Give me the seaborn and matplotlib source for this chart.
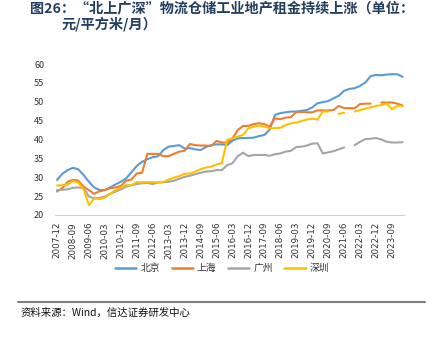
import numpy as np
import pandas as pd
import matplotlib
matplotlib.use("Agg")
import matplotlib.pyplot as plt
from matplotlib.lines import Line2D
import seaborn as sns

# ---------------- data (quarterly, 2007-12 .. 2024-03) ----------------
dates = pd.date_range("2007-12-01", periods=66, freq="3MS").strftime("%Y-%m").tolist()
tick_labels = dates[::3]

beijing = [29.3, 30.9, 31.9, 32.5, 32.1, 30.6, 28.8, 27.3, 26.6, 26.6, 27.3, 28.1,
           28.8, 29.7, 31.3, 33.0, 34.1, 34.8, 35.3, 35.6, 37.2, 38.1, 38.3, 38.5,
           37.6, 37.7, 37.4, 37.2, 38.0, 38.5, 38.7, 38.7, 38.5, 39.7, 40.3, 40.4,
           40.4, 40.5, 40.9, 41.2, 42.6, 46.5, 47.0, 47.2, 47.4, 47.4, 47.6, 47.8,
           48.5, 49.6, 49.9, 50.2, 50.9, 51.6, 52.9, 53.4, 53.6, 54.2, 55.1, 56.8,
           57.1, 57.0, 57.2, 57.3, 57.3, 56.6]
shanghai = [26.2, 27.1, 28.8, 29.3, 29.1, 27.5, 26.6, 25.6, 26.3, 26.6, 27.1, 27.3,
            27.7, 29.1, 29.4, 31.0, 31.2, 36.2, 36.2, 36.2, 35.6, 35.6, 36.2, 36.8,
            37.0, 38.8, 38.5, 38.4, 38.4, 38.3, 39.6, 39.2, 39.2, 40.3, 42.5, 43.6,
            43.6, 44.1, 44.3, 44.1, 43.4, 45.6, 45.4, 45.8, 45.9, 47.3, 47.3, 47.2,
            47.2, 47.7, 47.7, 47.7, 47.8, 48.9, 48.3, 48.3, 48.3, 49.4, 49.5, 49.5,
            np.nan, 49.8, 49.8, 49.8, 49.5, 49.0]
guangzhou = [26.6, 26.7, 26.8, 27.2, 27.3, 27.1, 24.9, 24.4, 24.5, 24.9, 25.6, 26.2,
             26.8, 27.5, 27.9, 28.2, 28.4, 28.5, 28.2, 28.6, 28.7, 28.8, 29.1, 29.6,
             30.1, 30.4, 30.8, 31.2, 31.5, 31.6, 31.9, 31.9, 33.2, 33.7, 35.6, 36.5,
             35.6, 35.9, 35.9, 35.9, 35.7, 36.1, 36.3, 36.8, 37.0, 38.0, 38.1, 38.4,
             38.9, 39.0, 36.3, 36.6, 36.9, 37.4, 37.9, np.nan, 38.5, 39.4, 40.1, 40.2,
             40.4, 40.0, 39.4, 39.2, 39.2, 39.3]
shenzhen = [27.8, 27.9, 28.1, 29.0, 28.6, 26.8, 22.6, 24.4, 24.2, 24.6, 25.6, 26.6,
            27.3, 27.9, 27.9, 28.7, 28.7, 28.7, 28.7, 28.6, 28.7, 29.4, 29.9, 30.3,
            30.9, 31.0, 31.5, 32.1, 32.6, 32.8, 33.4, 33.7, 39.9, 40.3, 40.8, 41.2,
            43.0, 43.4, 43.7, 43.4, 43.0, 43.0, 43.1, 43.8, 44.3, 44.5, 44.9, 45.3,
            45.5, 45.3, 47.4, 47.4, np.nan, 46.8, 47.1, np.nan, 47.4, 47.8, 48.2, 48.5,
            48.9, 49.1, 49.6, 48.0, 48.9, 48.9]

cities = ["北京", "上海", "广州", "深圳"]
series = [beijing, shanghai, guangzhou, shenzhen]
colors = ["#5B9BD5", "#ED7D31", "#A5A5A5", "#FFC000"]

# long-form frame, with a segment id so that missing values leave gaps
frames = []
for city, vals in zip(cities, series):
    v = pd.Series(vals, dtype=float)
    seg = v.isna().cumsum()
    df = pd.DataFrame({"x": np.arange(len(v)), "value": v, "city": city,
                       "seg": city + "_" + seg.astype(str)})
    frames.append(df.dropna())
data = pd.concat(frames, ignore_index=True)

# ---------------- figure ----------------
sns.set_theme(style="white")
plt.rcParams["font.family"] = ["Noto Sans CJK SC", "DejaVu Sans"]
plt.rcParams["axes.unicode_minus"] = False

fig = plt.figure(figsize=(4.39, 3.39), dpi=100)
ax = fig.add_axes([0.1262, 0.3658, 0.7945, 0.4454])

sns.lineplot(data=data, x="x", y="value", hue="city", units="seg", estimator=None,
             palette=dict(zip(cities, colors)), hue_order=cities, linewidth=1.5,
             legend=False, ax=ax)

ax.set_xlim(-0.3, 65.3)
ax.set_ylim(20, 60)
ax.set_yticks(np.arange(20, 61, 5))
ax.set_xticks(np.arange(0, 66, 3))
ax.set_xticklabels(tick_labels, rotation=90, fontsize=6.3, family="DejaVu Sans")
ax.tick_params(axis="y", labelsize=6.5, length=0, pad=8, labelcolor="#333333")
ax.tick_params(axis="x", length=3, width=0.8, color="#d0d0d0", pad=2, labelcolor="#333333")
ax.set_xlabel("")
ax.set_ylabel("")
for s in ["top", "right", "left"]:
    ax.spines[s].set_visible(False)
ax.spines["bottom"].set_color("#d0d0d0")
ax.spines["bottom"].set_linewidth(0.8)
ax.grid(False)

handles = [Line2D([0], [0], color=c, lw=1.8) for c in colors]
fig.legend(handles, cities, loc="center", bbox_to_anchor=(0.506, 0.209), ncol=4,
           frameon=False, fontsize=7, handlelength=2.2, handletextpad=0.4,
           columnspacing=1.2, labelcolor="#333333")

# title
title_color = "#243f60"
fig.text(0.068, 0.976, "图26：“北上广深”物流仓储工业地产租金持续上涨（单位：",
         fontsize=10.2, fontweight="bold", color=title_color, va="center", ha="left")
fig.text(0.141, 0.929, "元/平方米/月）", fontsize=10.2, fontweight="bold",
         color=title_color, va="center", ha="left")

# footer
fig.add_artist(Line2D([0.041, 0.968], [0.109, 0.109], color="#7f7f7f", lw=1.5,
                      transform=fig.transFigure))
fig.text(0.046, 0.077, "资料来源：Wind，信达证券研发中心", fontsize=7.5,
         style="italic", color="#111111", va="center", ha="left")

fig.savefig("out.png", dpi=100)
